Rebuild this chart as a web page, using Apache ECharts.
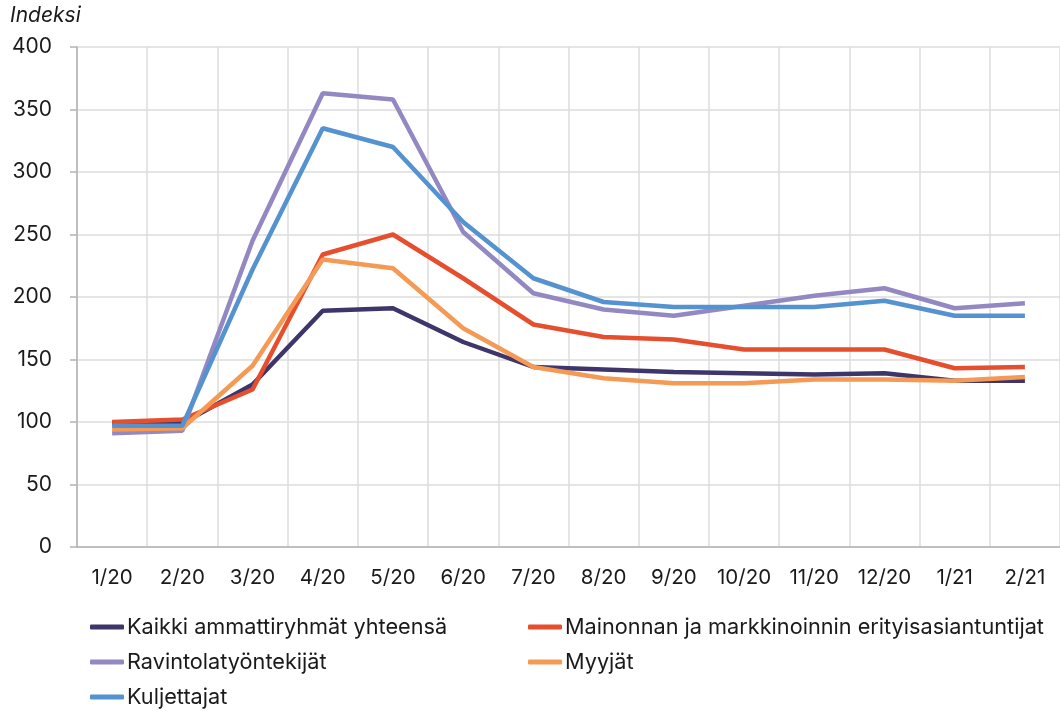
<!DOCTYPE html>
<html>
<head>
<meta charset="utf-8">
<script src="https://cdn.jsdelivr.net/npm/echarts@6/dist/echarts.min.js"></script>
<style>html,body{margin:0;padding:0;background:#fff}#c{width:1060px;height:711px}</style>
</head>
<body>
<div id="c"></div>
<script>
const categories = ['1/20','2/20','3/20','4/20','5/20','6/20','7/20','8/20','9/20','10/20','11/20','12/20','1/21','2/21'];
const yTicks = [0,50,100,150,200,250,300,350,400];
const kaikki      = [99, 99, 130, 189, 191, 164, 144, 142, 140, 139, 138, 139, 133, 133];
const mainonta    = [100, 102, 126, 234, 250, 215, 178, 168, 166, 158, 158, 158, 143, 144];
const ravintola   = [91, 93, 245, 363, 358, 252, 203, 190, 185, 193, 201, 207, 191, 195];
const myyjat      = [94, 95, 145, 230, 223, 175, 144, 135, 131, 131, 134, 134, 133, 136];
const kuljettajat = [97, 97, 222, 335, 320, 260, 215, 196, 192, 192, 192, 197, 185, 185];

const names = ['Kaikki ammattiryhmät yhteensä','Mainonnan ja markkinoinnin erityisasiantuntijat','Ravintolatyöntekijät','Myyjät','Kuljettajat'];
const colors = ['#3e366b','#e64f2d','#9488c2','#f59a55','#5592d0'];
const datas = [kaikki, mainonta, ravintola, myyjat, kuljettajat];

const font = 'Inter, Roboto, sans-serif';
const chart = echarts.init(document.getElementById('c'));
const legendCommon = {
  orient: 'vertical', top: 616, height: 100, itemWidth: 34, itemHeight: 5, icon: 'roundRect', itemGap: 13, padding: 0,
  textStyle: { fontFamily: font, fontSize: 21.7, color: '#1a1a1a', lineHeight: 22, padding: [0,0,0,-2] }
};
chart.setOption({
  animation: false,
  textStyle: { fontFamily: font },
  title: { text: 'Indeksi', left: 10, top: 5, padding: 0, textStyle: { fontFamily: font, fontSize: 21, fontStyle: 'italic', fontWeight: 'normal', color: '#1a1a1a' } },
  legend: [
    Object.assign({}, legendCommon, { left: 90, data: [names[0], names[2], names[4]] }),
    Object.assign({}, legendCommon, { left: 528, data: [names[1], names[3]] })
  ],
  grid: { left: 77, right: 0, top: 47, bottom: 164, containLabel: false },
  xAxis: {
    type: 'category', data: categories, boundaryGap: true,
    axisLine: { lineStyle: { color: '#b3b3b3', width: 1.5 } },
    axisTick: { show: false, interval: 0 },
    splitLine: { show: true, interval: 0, lineStyle: { color: '#dcdcdc', width: 1.5 } },
    axisLabel: { interval: 0, fontFamily: font, fontSize: 20.5, color: '#1a1a1a', margin: 20 }
  },
  yAxis: {
    type: 'value', min: 0, max: 400, interval: 50,
    axisLine: { show: true, lineStyle: { color: '#b3b3b3', width: 1.5 } },
    axisTick: { show: true, length: 7, lineStyle: { color: '#b3b3b3', width: 1.5 } },
    splitLine: { lineStyle: { color: '#dcdcdc', width: 1.5 } },
    axisLabel: { fontFamily: font, fontSize: 21, color: '#1a1a1a', margin: 25,
      formatter: v => yTicks.includes(v) ? String(v) : '' }
  },
  series: datas.map((d, i) => ({
    name: names[i], type: 'line', data: d, symbol: 'none',
    lineStyle: { color: colors[i], width: 4.5 }, itemStyle: { color: colors[i] },
    z: [2,3,4,5,6][i]
  }))
});
</script>
</body>
</html>
